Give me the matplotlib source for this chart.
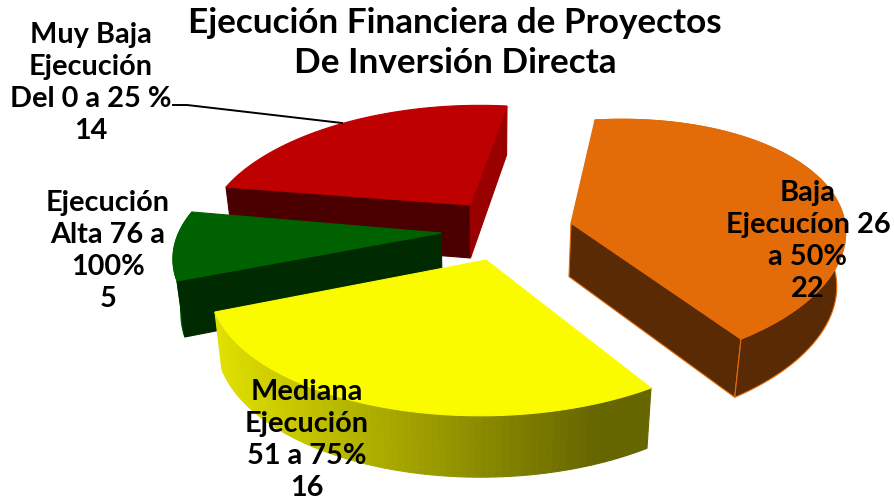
import matplotlib
matplotlib.use('Agg')
import matplotlib.pyplot as plt
from matplotlib.patches import Polygon
import numpy as np

## data
labels = ['Muy Baja\nEjecución\nDel 0 a 25 %\n14', 'Baja\nEjecucíon 26\na 50%\n22',
          'Mediana\nEjecución\n51 a 75%\n16', 'Ejecución\nAlta 76 a\n100%\n5']
values = [14, 22, 16, 5]
title = 'Ejecución Financiera de Proyectos\nDe Inversión Directa'

## look of each slice
top_colors = ['#BE0000', '#E36C09', '#FBFB00', '#006100']
side_colors = ['#4A0000', '#5A2A04', '#E0E000', '#002B00']
centers = [(470, 205), (571, 223), (486, 260), (441, 233)]
# rim ends of each slice on screen, first and last
corners = [((226, 187), (507, 106)), ((595, 120), (741, 339)),
           ((651, 388), (215, 312)), ((177, 281), (192, 212))]
# how much rounder or flatter the rim is at the middle of the arc
bulge = [0.0, 0.09, -0.03, 0.0]
label_pos = [(91, 83), (808, 241), (307, 440), (108, 251)]

# first slice starts here, degrees clockwise from north
start = -80.0
# where the slice edges land on screen, used to fit the perspective
edge_px = np.array([(-246, -20), (33, -103), (170, 118), (-270, 50)], dtype=float)

angles = start + np.concatenate([[0], np.cumsum(values)]) * 360.0 / sum(values)


def fit_view(ang, px):
    rows, rhs = [], []
    for t, (x, y) in zip(np.radians(ang), px):
        u, v = np.sin(t), np.cos(t)
        rows.append([u, v, 0, 0, -x * u, -x * v])
        rhs.append(x)
        rows.append([0, 0, u, v, -y * u, -y * v])
        rhs.append(y)
    return np.linalg.lstsq(np.array(rows), np.array(rhs), rcond=None)[0]


view = fit_view(angles[:4], edge_px)


def project(theta):
    t = np.radians(theta)
    u, v = np.sin(t), np.cos(t)
    w = 1 + view[4] * u + view[5] * v
    return (view[0] * u + view[1] * v) / w, (view[2] * u + view[3] * v) / w


def drop(pts):
    # bottom face of the slab
    pts = np.asarray(pts, dtype=float)
    out = pts.copy()
    out[:, 0] += -0.025 * (pts[:, 0] - 490)
    out[:, 1] += 49 + 0.04 * (pts[:, 1] - 106)
    return out


fig = plt.figure(figsize=(8.94, 5.01), dpi=100)
ax = fig.add_axes([0, 0, 1, 1])
ax.set_xlim(0, 894)
ax.set_ylim(501, 0)
ax.axis('off')

plt.rcParams['font.family'] = ['Lato', 'DejaVu Sans']


def face(pts, color, edge=None, z=1):
    ax.add_patch(Polygon(pts, closed=True, facecolor=color, edgecolor=edge or color, lw=0.8, zorder=z))


def slice_parts(i):
    th = np.linspace(angles[i], angles[i + 1], 80)
    x, y = project(th)
    off = np.column_stack([x, y])
    c = np.array(centers[i], dtype=float)
    # small per slice correction so the rim ends land where the picture has them
    want = np.array(corners[i], dtype=float).T - c[:, None]
    have = np.column_stack([off[0], off[-1]])
    fix = want @ np.linalg.inv(have)
    off = off @ fix.T
    off = off * (1 + bulge[i] * np.sin(np.linspace(0, np.pi, len(th))))[:, None]
    return c, off + c


def wall(p, q):
    seg = np.array([p, q])
    return np.vstack([seg, drop(seg)[::-1]])


# red, orange, green then yellow, back to front
for z, i in enumerate([0, 1, 3, 2]):
    c, rim = slice_parts(i)
    base = z * 10 + 1
    if i == 0:
        face(wall(c, rim[0]), '#4A0000', z=base)
        face(wall(c, rim[-1]), '#990000', z=base)
    elif i == 1:
        face(wall(c, rim[-1]), side_colors[i], edge='#E36C09', z=base)
        face(np.vstack([rim, drop(rim)[::-1]]), side_colors[i], edge='#E36C09', z=base)
    elif i == 3:
        face(np.vstack([rim, drop(rim)[::-1]]), side_colors[i], edge='#006100', z=base)
        face(wall(c, rim[0]), side_colors[i], z=base)
    else:
        low = drop(rim)
        for k in range(len(rim) - 1):
            # shade runs from light at the left end to dark near the right end
            pos = (rim[k, 0] - rim[:, 0].min()) / (rim[:, 0].max() - rim[:, 0].min())
            shade = 0.4 + 0.48 * (1 - min(1.0, pos / 0.88))
            face([rim[k], rim[k + 1], low[k + 1], low[k]], (shade, shade, 0), z=base)
    face(np.vstack([c, rim]), top_colors[i], z=base + 2)

ax.plot([173, 187, 342], [105, 105, 123], color='black', lw=1.4, zorder=60)

ax.text(455, 43, title, ha='center', va='center', fontsize=25.3, fontweight='bold', linespacing=1.3,
        color='black', zorder=70)
for lab, (x, y) in zip(labels, label_pos):
    ax.text(x, y, lab, ha='center', va='center', fontsize=20.8, fontweight='bold', linespacing=1.3,
            color='black', zorder=70)

fig.savefig('out.png', dpi=100)
